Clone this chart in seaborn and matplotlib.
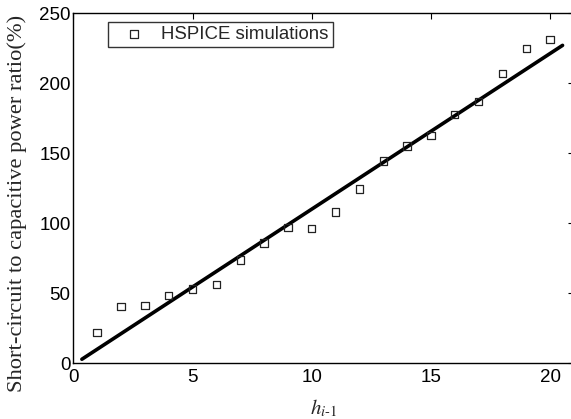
import matplotlib
matplotlib.use("Agg")
import matplotlib.pyplot as plt
import seaborn as sns
import pandas as pd

# Data
h_values = [1, 2, 3, 4, 5, 6, 7, 8, 9, 10, 11, 12, 13, 14, 15, 16, 17, 18, 19, 20]
ratio_values = [22.2, 40.8, 41.3, 48.4, 53.0, 56.5, 73.7, 85.9, 97.1, 96.1,
                108.0, 124.5, 144.6, 155.3, 162.7, 177.7, 186.8, 207.0, 225.0, 231.4]
fit_x = [0.36, 20.52]
fit_y = [2.9, 227.1]
x_ticks = [0, 5, 10, 15, 20]
y_ticks = [0, 50, 100, 150, 200, 250]

sns.set_style("white")
plt.rcParams['font.family'] = ['Liberation Sans', 'DejaVu Sans']
plt.rcParams['mathtext.fontset'] = 'stix'

df = pd.DataFrame({"h": h_values, "ratio": ratio_values})
fit = pd.DataFrame({"h": fit_x, "ratio": fit_y})

fig = plt.figure(figsize=(5.71, 4.19), dpi=100)
ax = fig.add_axes([73.3 / 571, (419 - 363.3) / 419, 500.7 / 571, 350 / 419])

sns.lineplot(data=fit, x="h", y="ratio", ax=ax, color="black", linewidth=2.6,
             legend=False)
sns.scatterplot(data=df, x="h", y="ratio", ax=ax, marker="s", s=28,
                facecolor="none", edgecolor="#222222", linewidth=0.9,
                label="HSPICE simulations", zorder=3)

ax.set_xlim(0, 21)
ax.set_ylim(0, 250)
ax.set_xticks(x_ticks)
ax.set_yticks(y_ticks)
ax.tick_params(direction="in", length=4, width=0.8, top=True, right=True,
               labelsize=13.5, colors="black")
ax.tick_params(axis="y", pad=2)
ax.tick_params(axis="x", pad=4)
for sp in ax.spines.values():
    sp.set_visible(True)
    sp.set_color("black")
    sp.set_linewidth(1.0)

ax.set_ylabel("Short-circuit to capacitive power ratio(%)",
              family=["Liberation Serif", "DejaVu Serif"], fontsize=16.2)
ax.yaxis.set_label_coords(-0.092, 0.457)
ax.set_xlabel(r"$h_{i\text{-}1}$", fontsize=15)
ax.xaxis.set_label_coords(0.5, -0.097)

leg = ax.legend(loc="upper left", bbox_to_anchor=(0.0687, 0.976),
                borderaxespad=0, frameon=True, fancybox=False, fontsize=13.4,
                handletextpad=0.25, borderpad=0.22, handlelength=2.4)
leg.get_frame().set_edgecolor("black")
leg.get_frame().set_linewidth(1.0)

fig.savefig("out.png", dpi=100)
